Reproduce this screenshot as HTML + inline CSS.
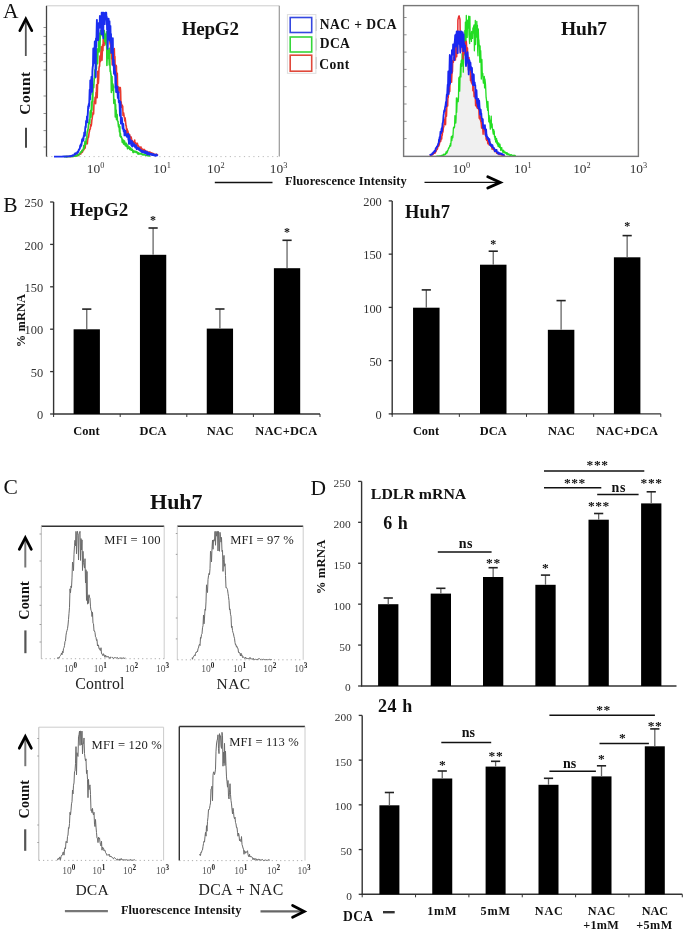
<!DOCTYPE html>
<html><head><meta charset="utf-8"><style>
html,body{margin:0;padding:0;background:#fff;}
body{width:685px;height:933px;overflow:hidden;}
svg{display:block;font-family:"Liberation Serif", serif;will-change:transform;}
</style></head><body>
<svg width="685" height="933" viewBox="0 0 685 933">
<rect width="685" height="933" fill="#fff"/>
<text x="2.99" y="17.50" font-size="21.5" fill="#111">A</text>
<line x1="25.80" y1="20.40" x2="25.80" y2="56.00" stroke="#555" stroke-width="1.8" />
<polyline points="19.8,30.7 25.8,18.9 31.8,30.7" fill="none" stroke="#000" stroke-width="2.7" stroke-linecap="round" stroke-linejoin="miter"/>
<text x="0" y="0" font-size="15.5" font-weight="bold" fill="#111" textLength="42.91" lengthAdjust="spacing" transform="translate(29.84,114.68) rotate(-90)">Count</text>
<line x1="26.00" y1="127.70" x2="26.00" y2="147.80" stroke="#333" stroke-width="1.8" />
<line x1="46.50" y1="5.80" x2="279.30" y2="5.80" stroke="#ccc" stroke-width="1" />
<line x1="279.30" y1="5.80" x2="279.30" y2="156.60" stroke="#999" stroke-width="1.2" />
<line x1="46.50" y1="156.60" x2="279.30" y2="156.60" stroke="#bbb" stroke-width="1" stroke-dasharray="1.2 3.5"/>
<line x1="43.50" y1="27.50" x2="46.50" y2="27.50" stroke="#777" stroke-width="0.8" />
<line x1="43.50" y1="36.40" x2="46.50" y2="36.40" stroke="#777" stroke-width="0.8" />
<line x1="43.50" y1="44.70" x2="46.50" y2="44.70" stroke="#777" stroke-width="0.8" />
<line x1="43.50" y1="53.40" x2="46.50" y2="53.40" stroke="#777" stroke-width="0.8" />
<line x1="43.50" y1="61.70" x2="46.50" y2="61.70" stroke="#777" stroke-width="0.8" />
<line x1="43.50" y1="70.00" x2="46.50" y2="70.00" stroke="#777" stroke-width="0.8" />
<line x1="43.50" y1="96.00" x2="46.50" y2="96.00" stroke="#777" stroke-width="0.8" />
<line x1="43.50" y1="113.50" x2="46.50" y2="113.50" stroke="#777" stroke-width="0.8" />
<line x1="43.50" y1="130.60" x2="46.50" y2="130.60" stroke="#777" stroke-width="0.8" />
<line x1="43.50" y1="147.00" x2="46.50" y2="147.00" stroke="#777" stroke-width="0.8" />
<polyline points="66.00,156.58 66.30,156.60 66.60,156.58 66.90,156.57 67.20,156.57 67.50,156.55 67.80,156.55 68.10,156.54 68.40,156.54 68.70,156.51 69.00,156.52 69.30,156.51 69.60,156.56 69.90,156.48 70.20,156.45 70.50,156.49 70.80,156.48 71.10,156.37 71.40,156.50 71.70,156.39 72.00,156.27 72.30,156.41 72.60,156.29 72.90,156.19 73.20,156.28 73.50,156.19 73.80,156.12 74.10,156.23 74.40,156.11 74.70,156.02 75.00,155.90 75.30,155.94 75.60,155.89 75.90,155.93 76.20,155.76 76.50,155.47 76.80,155.50 77.10,155.58 77.40,155.48 77.70,154.58 78.00,154.77 78.30,154.73 78.60,155.46 78.90,154.38 79.20,154.23 79.50,153.61 79.80,153.81 80.10,153.77 80.40,153.27 80.70,154.09 81.00,152.45 81.30,152.47 81.60,152.69 81.90,151.20 82.20,150.48 82.50,152.10 82.80,151.23 83.10,150.10 83.40,149.69 83.70,149.66 84.00,149.64 84.30,146.26 84.60,146.59 84.90,148.20 85.20,147.75 85.50,143.62 85.80,143.62 86.10,141.70 86.40,142.11 86.70,143.55 87.00,141.01 87.30,143.81 87.60,140.66 87.90,138.48 88.20,136.34 88.50,137.51 88.80,135.19 89.10,132.75 89.40,131.60 89.70,129.63 90.00,129.19 90.30,129.04 90.60,124.75 90.90,125.09 91.20,125.92 91.50,123.81 91.80,120.34 92.10,118.95 92.40,116.35 92.70,115.04 93.00,112.58 93.30,111.78 93.60,114.00 93.90,105.80 94.20,101.27 94.50,101.61 94.80,102.11 95.10,97.31 95.40,101.40 95.70,103.63 96.00,92.57 96.30,95.17 96.60,84.88 96.90,91.84 97.20,97.81 97.50,87.53 97.80,71.29 98.10,79.82 98.40,83.33 98.70,77.87 99.00,68.29 99.30,66.31 99.60,66.19 99.90,56.03 100.20,58.86 100.50,61.58 100.80,55.69 101.10,46.82 101.40,49.54 101.70,47.43 102.00,60.31 102.30,52.34 102.60,44.71 102.90,50.62 103.20,39.53 103.50,41.71 103.80,38.30 104.10,45.52 104.40,34.60 104.70,34.60 105.00,43.17 105.30,40.28 105.60,34.60 105.90,42.69 106.20,34.60 106.50,34.60 106.80,39.55 107.10,34.60 107.40,34.60 107.70,34.60 108.00,34.60 108.30,34.60 108.60,34.60 108.90,34.60 109.20,34.60 109.50,34.73 109.80,39.00 110.10,44.26 110.40,39.71 110.70,53.30 111.00,51.10 111.30,47.51 111.60,59.04 111.90,52.79 112.20,64.95 112.50,56.83 112.80,49.44 113.10,50.80 113.40,56.39 113.70,58.97 114.00,68.20 114.30,48.47 114.60,58.57 114.90,56.51 115.20,70.54 115.50,67.78 115.80,79.33 116.10,65.28 116.40,66.14 116.70,84.34 117.00,75.37 117.30,73.28 117.60,88.26 117.90,90.18 118.20,87.74 118.50,87.13 118.80,92.79 119.10,87.25 119.40,87.96 119.70,87.91 120.00,89.42 120.30,87.57 120.60,90.99 120.90,103.68 121.20,101.81 121.50,105.77 121.80,107.42 122.10,105.02 122.40,106.32 122.70,106.12 123.00,115.39 123.30,115.56 123.60,112.77 123.90,114.89 124.20,116.73 124.50,117.38 124.80,120.96 125.10,117.92 125.40,120.37 125.70,123.00 126.00,125.91 126.30,125.82 126.60,133.57 126.90,130.26 127.20,128.93 127.50,133.65 127.80,130.85 128.10,132.07 128.40,136.23 128.70,134.46 129.00,135.16 129.30,134.20 129.60,134.48 129.90,136.26 130.20,138.29 130.50,137.49 130.80,137.85 131.10,136.94 131.40,138.19 131.70,140.35 132.00,141.80 132.30,140.63 132.60,141.62 132.90,142.58 133.20,141.46 133.50,142.40 133.80,141.91 134.10,141.70 134.40,143.37 134.70,140.03 135.00,143.93 135.30,142.42 135.60,144.02 135.90,143.11 136.20,147.68 136.50,146.00 136.80,145.11 137.10,145.00 137.40,143.36 137.70,145.89 138.00,145.14 138.30,145.97 138.60,146.05 138.90,146.76 139.20,147.66 139.50,147.25 139.80,148.99 140.10,147.10 140.40,149.33 140.70,148.40 141.00,146.98 141.30,149.22 141.60,149.21 141.90,148.46 142.20,149.58 142.50,150.41 142.80,149.76 143.10,149.69 143.40,149.77 143.70,151.01 144.00,149.38 144.30,149.61 144.60,150.90 144.90,150.88 145.20,151.48 145.50,150.45 145.80,151.92 146.10,151.20 146.40,152.03 146.70,152.27 147.00,151.58 147.30,151.36 147.60,152.23 147.90,152.70 148.20,152.02 148.50,152.58 148.80,152.50 149.10,152.00 149.40,152.31 149.70,153.20 150.00,151.99 150.30,153.14 150.60,152.88 150.90,153.60 151.20,153.42 151.50,154.21 151.80,152.83 152.10,153.09 152.40,154.19 152.70,154.37 153.00,154.47 153.30,153.50 153.60,154.17 153.90,154.09 154.20,154.24 154.50,154.24 154.80,154.62 155.10,154.31 155.40,154.84 155.70,154.46 156.00,154.40 156.30,154.41 156.60,154.67 156.90,154.91 157.20,154.65 157.50,154.88 157.80,154.37" fill="none" stroke="#e8392e" stroke-width="1.6" stroke-linejoin="round" />
<polyline points="64.00,156.60 64.30,156.60 64.60,156.60 64.90,156.60 65.20,156.60 65.50,156.59 65.80,156.59 66.10,156.59 66.40,156.59 66.70,156.59 67.00,156.58 67.30,156.58 67.60,156.59 67.90,156.57 68.20,156.57 68.50,156.57 68.80,156.59 69.10,156.58 69.40,156.57 69.70,156.56 70.00,156.54 70.30,156.54 70.60,156.51 70.90,156.53 71.20,156.49 71.50,156.47 71.80,156.49 72.10,156.39 72.40,156.41 72.70,156.35 73.00,156.41 73.30,156.39 73.60,156.34 73.90,156.29 74.20,156.19 74.50,156.17 74.80,156.18 75.10,156.17 75.40,156.07 75.70,155.79 76.00,155.96 76.30,155.73 76.60,155.59 76.90,155.81 77.20,155.42 77.50,155.02 77.80,155.61 78.10,155.06 78.40,154.83 78.70,154.84 79.00,154.22 79.30,154.17 79.60,154.44 79.90,153.27 80.20,153.00 80.50,152.51 80.80,151.86 81.10,152.01 81.40,151.71 81.70,152.16 82.00,150.40 82.30,150.74 82.60,150.07 82.90,150.17 83.20,149.31 83.50,148.24 83.80,145.62 84.10,148.40 84.40,147.01 84.70,144.06 85.00,141.45 85.30,141.53 85.60,144.12 85.90,144.12 86.20,138.26 86.50,138.89 86.80,138.33 87.10,132.83 87.40,130.96 87.70,131.37 88.00,129.50 88.30,127.30 88.60,122.47 88.90,123.06 89.20,121.34 89.50,119.19 89.80,123.63 90.10,112.47 90.40,111.21 90.70,110.32 91.00,117.14 91.30,109.94 91.60,101.74 91.90,110.11 92.20,100.90 92.50,93.04 92.80,100.99 93.10,84.71 93.40,87.01 93.70,87.82 94.00,82.69 94.30,78.22 94.60,78.38 94.90,69.88 95.20,77.58 95.50,73.59 95.80,62.16 96.10,65.81 96.40,69.10 96.70,54.86 97.00,48.90 97.30,59.35 97.60,63.63 97.90,52.91 98.20,50.98 98.50,50.13 98.80,35.85 99.10,52.03 99.40,33.37 99.70,50.96 100.00,46.03 100.30,33.94 100.60,30.60 100.90,30.60 101.20,33.38 101.50,34.36 101.80,33.83 102.10,30.60 102.40,36.01 102.70,32.43 103.00,30.60 103.30,35.02 103.60,30.60 103.90,31.44 104.20,30.60 104.50,34.69 104.80,41.37 105.10,41.86 105.40,40.14 105.70,34.19 106.00,44.98 106.30,40.92 106.60,31.69 106.90,65.46 107.20,56.48 107.50,48.34 107.80,49.05 108.10,52.04 108.40,58.54 108.70,53.17 109.00,57.73 109.30,65.06 109.60,48.31 109.90,63.74 110.20,71.56 110.50,70.99 110.80,73.97 111.10,75.28 111.40,92.56 111.70,82.20 112.00,76.43 112.30,90.25 112.60,86.79 112.90,84.03 113.20,86.92 113.50,86.33 113.80,103.33 114.10,99.37 114.40,101.48 114.70,99.60 115.00,99.94 115.30,116.89 115.60,104.42 115.90,115.81 116.20,110.13 116.50,119.53 116.80,115.80 117.10,114.46 117.40,120.47 117.70,121.21 118.00,121.24 118.30,124.73 118.60,126.93 118.90,124.46 119.20,127.25 119.50,131.83 119.80,126.61 120.10,136.25 120.40,133.35 120.70,136.88 121.00,137.18 121.30,136.74 121.60,138.15 121.90,138.00 122.20,142.09 122.50,142.51 122.80,139.62 123.10,142.52 123.40,143.04 123.70,144.09 124.00,140.59 124.30,141.77 124.60,141.22 124.90,144.85 125.20,143.99 125.50,145.80 125.80,143.79 126.10,143.17 126.40,146.46 126.70,143.97 127.00,144.97 127.30,146.58 127.60,148.78 127.90,145.52 128.20,147.36 128.50,148.14 128.80,147.42 129.10,147.68 129.40,146.94 129.70,149.48 130.00,147.80 130.30,147.76 130.60,148.04 130.90,149.62 131.20,150.28 131.50,149.09 131.80,150.00 132.10,150.19 132.40,149.43 132.70,150.83 133.00,152.41 133.30,151.25 133.60,152.38 133.90,150.79 134.20,151.28 134.50,152.00 134.80,151.78 135.10,151.43 135.40,152.01 135.70,151.45 136.00,152.35 136.30,151.89 136.60,151.80 136.90,151.87 137.20,153.14 137.50,152.49 137.80,153.91 138.10,153.63 138.40,154.11 138.70,152.86 139.00,153.96 139.30,153.53 139.60,153.69 139.90,153.71 140.20,154.02 140.50,153.78 140.80,153.29 141.10,154.01 141.40,153.92 141.70,153.83 142.00,154.32 142.30,154.73 142.60,154.57 142.90,154.12 143.20,155.02 143.50,154.76 143.80,154.34 144.10,154.47 144.40,154.75 144.70,154.59 145.00,154.82 145.30,155.22 145.60,155.36 145.90,155.17 146.20,154.83 146.50,155.23 146.80,155.35 147.10,155.36 147.40,155.57 147.70,155.30 148.00,155.56 148.30,155.27 148.60,155.85 148.90,155.36 149.20,155.58 149.50,155.85 149.80,155.39" fill="none" stroke="#2ad42a" stroke-width="1.6" stroke-linejoin="round" />
<polyline points="54.00,156.60 54.30,156.60 54.60,156.60 54.90,156.60 55.20,156.60 55.50,156.60 55.80,156.60 56.10,156.60 56.40,156.60 56.70,156.60 57.00,156.60 57.30,156.60 57.60,156.59 57.90,156.60 58.20,156.60 58.50,156.60 58.80,156.60 59.10,156.60 59.40,156.60 59.70,156.59 60.00,156.59 60.30,156.59 60.60,156.60 60.90,156.60 61.20,156.59 61.50,156.59 61.80,156.59 62.10,156.58 62.40,156.59 62.70,156.57 63.00,156.57 63.30,156.57 63.60,156.56 63.90,156.57 64.20,156.58 64.50,156.56 64.80,156.54 65.10,156.55 65.40,156.54 65.70,156.51 66.00,156.54 66.30,156.48 66.60,156.43 66.90,156.50 67.20,156.46 67.50,156.45 67.80,156.35 68.10,156.39 68.40,156.33 68.70,156.40 69.00,156.32 69.30,156.29 69.60,156.41 69.90,156.08 70.20,156.08 70.50,156.31 70.80,155.97 71.10,156.02 71.40,155.87 71.70,155.81 72.00,156.04 72.30,155.73 72.60,155.30 72.90,155.62 73.20,155.62 73.50,155.59 73.80,155.45 74.10,154.86 74.40,154.26 74.70,154.47 75.00,154.33 75.30,153.32 75.60,154.21 75.90,154.05 76.20,153.21 76.50,152.90 76.80,153.46 77.10,153.26 77.40,152.00 77.70,151.63 78.00,152.37 78.30,151.11 78.60,150.93 78.90,149.55 79.20,149.53 79.50,148.93 79.80,148.61 80.10,146.35 80.40,145.16 80.70,146.61 81.00,144.17 81.30,145.63 81.60,143.52 81.90,141.48 82.20,139.10 82.50,141.39 82.80,139.75 83.10,138.07 83.40,140.47 83.70,135.97 84.00,136.29 84.30,132.40 84.60,134.82 84.90,135.77 85.20,128.72 85.50,126.43 85.80,127.24 86.10,120.88 86.40,122.91 86.70,122.26 87.00,116.41 87.30,122.23 87.60,116.86 87.90,112.12 88.20,106.20 88.50,108.39 88.80,103.96 89.10,106.24 89.40,99.21 89.70,89.72 90.00,99.53 90.30,80.35 90.60,94.53 90.90,88.22 91.20,84.71 91.50,76.80 91.80,88.46 92.10,91.73 92.40,71.24 92.70,67.21 93.00,65.67 93.30,48.41 93.60,63.38 93.90,60.41 94.20,52.60 94.50,54.38 94.80,41.43 95.10,62.60 95.40,53.21 95.70,77.09 96.00,38.52 96.30,46.66 96.60,33.07 96.90,19.85 97.20,37.46 97.50,37.95 97.80,38.56 98.10,40.20 98.40,36.80 98.70,23.23 99.00,27.77 99.30,26.34 99.60,27.68 99.90,16.03 100.20,19.42 100.50,25.13 100.80,16.57 101.10,24.40 101.40,34.25 101.70,12.60 102.00,17.92 102.30,32.22 102.60,12.60 102.90,19.13 103.20,38.32 103.50,12.60 103.80,19.25 104.10,13.64 104.40,20.61 104.70,24.10 105.00,17.74 105.30,12.60 105.60,12.60 105.90,15.47 106.20,12.64 106.50,19.28 106.80,17.00 107.10,29.71 107.40,27.31 107.70,48.77 108.00,33.15 108.30,23.77 108.60,18.82 108.90,36.33 109.20,35.49 109.50,21.26 109.80,40.49 110.10,32.56 110.40,25.97 110.70,42.43 111.00,34.00 111.30,52.72 111.60,46.87 111.90,51.32 112.20,51.83 112.50,45.81 112.80,38.16 113.10,64.47 113.40,65.93 113.70,60.07 114.00,73.83 114.30,64.80 114.60,66.66 114.90,74.92 115.20,71.75 115.50,87.84 115.80,75.08 116.10,91.96 116.40,88.83 116.70,90.17 117.00,91.46 117.30,86.52 117.60,93.15 117.90,97.92 118.20,95.15 118.50,92.14 118.80,102.18 119.10,102.54 119.40,100.62 119.70,107.11 120.00,115.77 120.30,101.81 120.60,105.15 120.90,123.54 121.20,117.76 121.50,117.84 121.80,117.66 122.10,120.41 122.40,125.11 122.70,128.60 123.00,125.82 123.30,123.85 123.60,130.96 123.90,131.49 124.20,129.35 124.50,135.36 124.80,131.44 125.10,132.58 125.40,130.94 125.70,134.54 126.00,135.59 126.30,134.98 126.60,134.76 126.90,136.77 127.20,135.78 127.50,134.70 127.80,134.34 128.10,133.82 128.40,139.58 128.70,139.31 129.00,143.88 129.30,135.73 129.60,141.26 129.90,140.39 130.20,139.82 130.50,143.61 130.80,140.80 131.10,142.06 131.40,145.45 131.70,142.31 132.00,141.25 132.30,146.44 132.60,142.64 132.90,143.90 133.20,143.85 133.50,144.24 133.80,143.36 134.10,145.80 134.40,144.62 134.70,146.62 135.00,145.43 135.30,147.66 135.60,147.04 135.90,145.09 136.20,146.90 136.50,147.85 136.80,149.20 137.10,149.02 137.40,148.16 137.70,147.60 138.00,148.37 138.30,148.49 138.60,149.26 138.90,148.11 139.20,149.98 139.50,150.31 139.80,149.18 140.10,150.11 140.40,150.58 140.70,150.99 141.00,150.88 141.30,150.32 141.60,150.70 141.90,152.08 142.20,150.96 142.50,151.29 142.80,152.29 143.10,151.15 143.40,152.03 143.70,152.19 144.00,151.55 144.30,151.34 144.60,152.76 144.90,152.17 145.20,153.09 145.50,151.28 145.80,153.06 146.10,152.19 146.40,153.33 146.70,152.62 147.00,151.97 147.30,154.59 147.60,153.57 147.90,153.18 148.20,153.56 148.50,153.92 148.80,152.67 149.10,153.72 149.40,154.58 149.70,153.53 150.00,154.73 150.30,153.57 150.60,154.36 150.90,154.13 151.20,153.76 151.50,154.27 151.80,154.90 152.10,155.07 152.40,154.07 152.70,154.29 153.00,154.89 153.30,154.37 153.60,154.55 153.90,154.55 154.20,155.53 154.50,154.96 154.80,154.63 155.10,154.74 155.40,154.74 155.70,155.74 156.00,155.04 156.30,154.99 156.60,154.48 156.90,155.45 157.20,155.32 157.50,155.27 157.80,155.10" fill="none" stroke="#1a2ef0" stroke-width="1.9" stroke-linejoin="round" />
<line x1="46.50" y1="5.80" x2="46.50" y2="156.60" stroke="#444" stroke-width="1.3" />
<text x="181.72" y="34.80" font-size="19" font-weight="bold" fill="#111" textLength="57.16" lengthAdjust="spacing">HepG2</text>
<rect x="287.40" y="14.60" width="28.50" height="58.70" fill="none" stroke="#ddd" stroke-width="1"/>
<rect x="290.20" y="17.50" width="21.50" height="15.00" fill="none" stroke="#3447e0" stroke-width="1.6"/>
<rect x="290.20" y="37.00" width="21.50" height="15.00" fill="none" stroke="#36d63a" stroke-width="1.6"/>
<rect x="290.20" y="55.20" width="21.50" height="16.00" fill="none" stroke="#e0483a" stroke-width="1.6"/>
<line x1="316.20" y1="19.00" x2="316.20" y2="31.00" stroke="#bbb" stroke-width="0.8" />
<line x1="316.20" y1="38.50" x2="316.20" y2="50.50" stroke="#bbb" stroke-width="0.8" />
<line x1="316.20" y1="57.00" x2="316.20" y2="69.00" stroke="#bbb" stroke-width="0.8" />
<text x="319.73" y="28.60" font-size="13.6" font-weight="bold" fill="#111" textLength="76.88" lengthAdjust="spacing">NAC + DCA</text>
<text x="319.80" y="47.90" font-size="13.6" font-weight="bold" fill="#111" textLength="29.99" lengthAdjust="spacing">DCA</text>
<text x="319.32" y="69.00" font-size="13.6" font-weight="bold" fill="#111" textLength="29.90" lengthAdjust="spacing">Cont</text>
<text x="86.86" y="173.20" font-size="13.4" fill="#333">10<tspan dy="-5.6" font-size="8.3">0</tspan></text>
<text x="153.36" y="173.20" font-size="13.4" fill="#333">10<tspan dy="-5.6" font-size="8.3">1</tspan></text>
<text x="207.06" y="173.20" font-size="13.4" fill="#333">10<tspan dy="-5.6" font-size="8.3">2</tspan></text>
<text x="269.86" y="173.20" font-size="13.4" fill="#333">10<tspan dy="-5.6" font-size="8.3">3</tspan></text>
<line x1="214.80" y1="182.50" x2="272.50" y2="182.50" stroke="#111" stroke-width="1.6" />
<text x="284.91" y="185.30" font-size="12.4" font-weight="bold" fill="#111" textLength="121.89" lengthAdjust="spacing">Fluorescence Intensity</text>
<line x1="424.50" y1="182.40" x2="498.70" y2="182.40" stroke="#111" stroke-width="1.4" />
<polyline points="487.8,176.8 500.2,182.4 487.8,188.0" fill="none" stroke="#000" stroke-width="2.9" stroke-linecap="round" stroke-linejoin="miter"/>
<line x1="403.60" y1="17.50" x2="406.60" y2="17.50" stroke="#777" stroke-width="0.8" />
<line x1="403.60" y1="34.80" x2="406.60" y2="34.80" stroke="#777" stroke-width="0.8" />
<line x1="403.60" y1="52.10" x2="406.60" y2="52.10" stroke="#777" stroke-width="0.8" />
<line x1="403.60" y1="69.40" x2="406.60" y2="69.40" stroke="#777" stroke-width="0.8" />
<line x1="403.60" y1="86.70" x2="406.60" y2="86.70" stroke="#777" stroke-width="0.8" />
<line x1="403.60" y1="104.00" x2="406.60" y2="104.00" stroke="#777" stroke-width="0.8" />
<line x1="403.60" y1="121.30" x2="406.60" y2="121.30" stroke="#777" stroke-width="0.8" />
<line x1="403.60" y1="138.60" x2="406.60" y2="138.60" stroke="#777" stroke-width="0.8" />
<polygon points="440.0,156.4 440.0,155.9 441.0,155.8 442.0,155.2 443.0,155.0 444.0,154.7 445.0,154.7 446.0,152.4 447.0,152.6 448.0,150.1 449.0,147.9 450.0,146.0 451.0,142.4 452.0,139.0 453.0,135.1 454.0,126.9 455.0,116.3 456.0,119.5 457.0,104.7 458.0,99.2 459.0,86.1 460.0,78.8 461.0,71.6 462.0,57.8 463.0,50.3 464.0,53.5 465.0,46.7 466.0,66.1 467.0,54.0 468.0,61.1 469.0,63.0 470.0,67.1 471.0,67.8 472.0,67.9 473.0,84.4 474.0,81.7 475.0,85.7 476.0,95.6 477.0,101.3 478.0,107.0 479.0,105.2 480.0,113.1 481.0,114.1 482.0,119.1 483.0,125.0 484.0,128.4 485.0,126.5 486.0,131.5 487.0,137.9 488.0,137.8 489.0,141.2 490.0,145.0 491.0,145.3 492.0,146.5 493.0,147.5 494.0,148.5 495.0,150.4 496.0,151.2 497.0,152.3 498.0,153.4 499.0,153.9 500.0,153.8 501.0,153.5 502.0,154.4 503.0,154.8 504.0,155.2 505.0,156.4 505.0,156.4" fill="#f0f0f0"/>
<line x1="403.60" y1="156.40" x2="638.40" y2="156.40" stroke="#9a9ad0" stroke-width="1.0" />
<polyline points="436.00,156.32 436.30,156.34 436.60,156.34 436.90,156.25 437.20,156.32 437.50,156.20 437.80,156.23 438.10,156.16 438.40,156.26 438.70,156.11 439.00,156.05 439.30,156.13 439.60,156.09 439.90,155.81 440.20,155.97 440.50,155.99 440.80,155.96 441.10,155.75 441.40,155.69 441.70,155.62 442.00,155.24 442.30,155.52 442.60,155.24 442.90,154.87 443.20,155.34 443.50,154.63 443.80,154.18 444.10,155.03 444.40,154.77 444.70,154.56 445.00,154.71 445.30,153.41 445.60,154.29 445.90,152.73 446.20,151.78 446.50,153.34 446.80,152.10 447.10,152.89 447.40,150.31 447.70,151.07 448.00,150.11 448.30,149.20 448.60,148.01 448.90,148.31 449.20,147.14 449.50,147.09 449.80,145.33 450.10,146.37 450.40,143.51 450.70,145.91 451.00,142.37 451.30,136.58 451.60,138.91 451.90,140.53 452.20,135.80 452.50,137.34 452.80,137.71 453.10,133.85 453.40,128.05 453.70,127.26 454.00,126.91 454.30,127.81 454.60,126.52 454.90,115.69 455.20,117.60 455.50,120.20 455.80,123.00 456.10,117.78 456.40,97.96 456.70,112.38 457.00,104.73 457.30,100.68 457.60,99.98 457.90,98.00 458.20,101.67 458.50,97.27 458.80,77.73 459.10,90.21 459.40,76.97 459.70,91.22 460.00,78.79 460.30,72.16 460.60,63.55 460.90,76.93 461.20,61.01 461.50,59.84 461.80,66.23 462.10,53.62 462.40,62.65 462.70,59.43 463.00,50.28 463.30,72.16 463.60,46.56 463.90,52.71 464.20,55.18 464.50,43.59 464.80,30.43 465.10,40.10 465.40,22.22 465.70,44.84 466.00,45.27 466.30,15.51 466.60,26.22 466.90,19.94 467.20,37.44 467.50,20.41 467.80,25.78 468.10,21.76 468.40,28.14 468.70,16.05 469.00,35.05 469.30,38.27 469.60,43.53 469.90,16.52 470.20,35.96 470.50,39.08 470.80,38.02 471.10,32.96 471.40,41.42 471.70,31.37 472.00,34.82 472.30,34.05 472.60,38.23 472.90,28.02 473.20,33.12 473.50,27.22 473.80,25.85 474.10,24.92 474.40,50.82 474.70,33.89 475.00,36.55 475.30,20.47 475.60,44.56 475.90,35.72 476.20,31.82 476.50,33.30 476.80,21.30 477.10,37.25 477.40,25.09 477.70,50.70 478.00,55.82 478.30,28.96 478.60,38.57 478.90,40.35 479.20,45.95 479.50,45.04 479.80,62.26 480.10,45.85 480.40,60.80 480.70,50.55 481.00,60.33 481.30,79.05 481.60,75.75 481.90,59.50 482.20,71.43 482.50,75.60 482.80,73.28 483.10,80.23 483.40,83.22 483.70,81.04 484.00,82.96 484.30,76.42 484.60,87.87 484.90,78.88 485.20,81.66 485.50,84.42 485.80,90.31 486.10,97.46 486.40,99.33 486.70,102.65 487.00,107.40 487.30,105.81 487.60,110.26 487.90,101.29 488.20,108.12 488.50,114.08 488.80,121.84 489.10,115.42 489.40,118.35 489.70,122.35 490.00,123.82 490.30,129.14 490.60,120.16 490.90,123.70 491.20,116.06 491.50,126.01 491.80,127.55 492.10,123.80 492.40,128.91 492.70,129.89 493.00,132.42 493.30,134.01 493.60,129.45 493.90,131.76 494.20,130.99 494.50,136.86 494.80,136.80 495.10,139.61 495.40,136.39 495.70,142.06 496.00,138.80 496.30,138.52 496.60,138.67 496.90,143.62 497.20,140.67 497.50,144.35 497.80,144.95 498.10,146.34 498.40,143.09 498.70,142.95 499.00,146.65 499.30,147.31 499.60,147.18 499.90,144.05 500.20,146.39 500.50,148.63 500.80,150.39 501.10,149.47 501.40,147.88 501.70,147.58 502.00,150.02 502.30,150.72 502.60,150.83 502.90,152.27 503.20,150.18 503.50,152.05 503.80,150.63 504.10,152.93 504.40,152.80 504.70,151.93 505.00,152.83 505.30,152.04 505.60,152.72 505.90,153.58 506.20,152.73 506.50,152.79 506.80,154.37 507.10,152.65 507.40,153.46 507.70,153.48 508.00,154.76 508.30,154.38 508.60,154.34 508.90,153.90 509.20,154.95 509.50,154.83 509.80,155.30 510.10,154.79 510.40,154.69 510.70,155.38 511.00,155.13 511.30,154.90 511.60,154.70 511.90,155.01 512.20,155.31 512.50,155.57 512.80,155.57 513.10,155.56 513.40,155.44 513.70,155.53 514.00,155.26 514.30,155.56 514.60,155.83 514.90,155.45 515.20,155.59 515.50,155.76 515.80,155.91" fill="none" stroke="#22dd22" stroke-width="1.3" stroke-linejoin="round" />
<polyline points="430.00,155.75 430.30,155.21 430.60,155.22 430.90,155.44 431.20,154.79 431.50,154.75 431.80,155.27 432.10,154.16 432.40,154.25 432.70,153.66 433.00,154.49 433.30,153.69 433.60,153.48 433.90,153.31 434.20,153.04 434.50,152.33 434.80,153.25 435.10,152.83 435.40,152.60 435.70,151.75 436.00,151.39 436.30,150.30 436.60,149.88 436.90,149.54 437.20,149.59 437.50,148.84 437.80,146.95 438.10,146.44 438.40,146.40 438.70,146.14 439.00,143.19 439.30,144.94 439.60,142.49 439.90,140.85 440.20,141.88 440.50,139.23 440.80,141.26 441.10,136.64 441.40,136.86 441.70,138.99 442.00,133.45 442.30,135.30 442.60,129.35 442.90,132.23 443.20,129.63 443.50,127.03 443.80,127.01 444.10,123.84 444.40,124.41 444.70,119.19 445.00,119.35 445.30,116.88 445.60,124.64 445.90,109.83 446.20,111.69 446.50,116.27 446.80,107.40 447.10,103.87 447.40,99.28 447.70,105.92 448.00,92.66 448.30,97.77 448.60,84.01 448.90,93.32 449.20,87.14 449.50,89.95 449.80,91.54 450.10,77.97 450.40,76.60 450.70,70.82 451.00,72.20 451.30,78.03 451.60,82.25 451.90,74.32 452.20,72.45 452.50,71.33 452.80,60.67 453.10,60.28 453.40,62.21 453.70,57.50 454.00,57.84 454.30,53.75 454.60,48.44 454.90,45.41 455.20,55.41 455.50,59.91 455.80,37.83 456.10,46.03 456.40,37.80 456.70,56.85 457.00,46.45 457.30,43.11 457.60,53.37 457.90,19.90 458.20,18.70 458.50,17.50 458.80,16.30 459.10,15.90 459.40,17.10 459.70,18.30 460.00,19.50 460.30,40.42 460.60,51.78 460.90,36.58 461.20,36.85 461.50,39.01 461.80,47.11 462.10,41.77 462.40,38.74 462.70,49.15 463.00,59.06 463.30,43.98 463.60,43.59 463.90,47.69 464.20,42.25 464.50,53.52 464.80,50.82 465.10,53.26 465.40,48.12 465.70,42.09 466.00,55.76 466.30,41.21 466.60,45.92 466.90,52.01 467.20,54.53 467.50,48.02 467.80,61.91 468.10,62.67 468.40,69.91 468.70,61.50 469.00,57.43 469.30,63.79 469.60,65.81 469.90,70.90 470.20,70.06 470.50,80.72 470.80,67.80 471.10,77.53 471.40,82.78 471.70,82.17 472.00,83.93 472.30,76.32 472.60,76.76 472.90,90.79 473.20,80.49 473.50,82.20 473.80,90.95 474.10,96.73 474.40,94.52 474.70,95.37 475.00,92.27 475.30,96.88 475.60,105.66 475.90,97.08 476.20,106.03 476.50,97.11 476.80,107.20 477.10,106.41 477.40,108.35 477.70,108.42 478.00,102.78 478.30,105.84 478.60,108.11 478.90,110.43 479.20,118.14 479.50,115.82 479.80,117.11 480.10,119.64 480.40,116.11 480.70,121.13 481.00,122.14 481.30,124.19 481.60,128.09 481.90,121.72 482.20,120.85 482.50,125.02 482.80,128.98 483.10,134.20 483.40,128.07 483.70,126.60 484.00,129.71 484.30,129.25 484.60,129.02 484.90,130.72 485.20,134.82 485.50,132.68 485.80,134.08 486.10,139.19 486.40,137.84 486.70,140.33 487.00,138.76 487.30,138.34 487.60,141.64 487.90,143.76 488.20,139.34 488.50,141.34 488.80,140.45 489.10,144.83 489.40,142.26 489.70,141.59 490.00,142.29 490.30,145.45 490.60,145.40 490.90,146.34 491.20,145.59 491.50,146.03 491.80,147.41 492.10,149.17 492.40,147.64 492.70,149.08 493.00,148.52 493.30,149.18 493.60,148.48 493.90,149.21 494.20,150.68 494.50,150.42 494.80,149.79 495.10,151.55 495.40,151.22 495.70,151.04 496.00,151.27 496.30,151.92 496.60,153.08 496.90,153.24 497.20,152.71 497.50,152.84 497.80,152.11 498.10,153.72 498.40,153.09 498.70,153.40 499.00,154.44 499.30,154.26 499.60,154.06 499.90,154.40 500.20,154.42 500.50,154.35 500.80,154.81 501.10,154.58 501.40,154.96 501.70,155.02 502.00,154.87 502.30,155.19 502.60,155.09 502.90,154.92 503.20,155.29 503.50,155.39 503.80,155.31 504.10,155.55 504.40,155.38 504.70,155.78" fill="none" stroke="#e83030" stroke-width="1.5" stroke-linejoin="round" />
<polyline points="430.00,155.18 430.30,154.69 430.60,155.00 430.90,154.57 431.20,154.61 431.50,154.22 431.80,154.29 432.10,154.40 432.40,153.16 432.70,153.19 433.00,153.28 433.30,152.62 433.60,151.87 433.90,152.56 434.20,151.70 434.50,150.88 434.80,150.41 435.10,150.53 435.40,151.39 435.70,148.21 436.00,148.36 436.30,148.01 436.60,147.63 436.90,146.38 437.20,146.38 437.50,146.32 437.80,145.20 438.10,144.17 438.40,143.31 438.70,143.17 439.00,139.45 439.30,141.48 439.60,137.06 439.90,138.83 440.20,135.06 440.50,131.67 440.80,132.62 441.10,133.23 441.40,130.02 441.70,128.22 442.00,131.35 442.30,126.92 442.60,123.14 442.90,123.16 443.20,119.74 443.50,115.80 443.80,113.66 444.10,111.10 444.40,110.05 444.70,111.07 445.00,107.96 445.30,106.77 445.60,104.76 445.90,102.00 446.20,106.40 446.50,98.13 446.80,94.43 447.10,96.57 447.40,89.71 447.70,84.63 448.00,85.67 448.30,71.48 448.60,94.17 448.90,78.84 449.20,85.71 449.50,67.32 449.80,54.96 450.10,83.62 450.40,65.43 450.70,60.77 451.00,63.85 451.30,56.24 451.60,72.73 451.90,50.16 452.20,51.50 452.50,52.11 452.80,54.70 453.10,44.43 453.40,50.96 453.70,44.45 454.00,48.52 454.30,60.22 454.60,42.76 454.90,40.05 455.20,35.04 455.50,46.67 455.80,39.70 456.10,34.27 456.40,37.55 456.70,31.40 457.00,31.40 457.30,45.37 457.60,53.13 457.90,31.83 458.20,31.40 458.50,31.40 458.80,32.16 459.10,43.15 459.40,43.91 459.70,31.72 460.00,45.64 460.30,52.71 460.60,46.69 460.90,31.40 461.20,31.40 461.50,45.23 461.80,45.95 462.10,39.15 462.40,47.02 462.70,32.13 463.00,43.11 463.30,51.21 463.60,34.15 463.90,48.82 464.20,43.66 464.50,46.16 464.80,49.17 465.10,45.43 465.40,53.60 465.70,62.67 466.00,66.10 466.30,60.41 466.60,57.86 466.90,53.84 467.20,54.40 467.50,52.15 467.80,56.25 468.10,63.49 468.40,64.08 468.70,74.41 469.00,63.00 469.30,60.10 469.60,61.15 469.90,66.54 470.20,68.18 470.50,62.77 470.80,69.71 471.10,66.81 471.40,69.15 471.70,72.72 472.00,67.93 472.30,79.96 472.60,80.15 472.90,83.99 473.20,85.29 473.50,74.23 473.80,74.73 474.10,85.19 474.40,83.88 474.70,82.35 475.00,85.66 475.30,85.25 475.60,98.37 475.90,96.80 476.20,93.20 476.50,90.27 476.80,97.59 477.10,103.10 477.40,102.28 477.70,104.87 478.00,106.96 478.30,98.89 478.60,108.57 478.90,107.38 479.20,100.72 479.50,105.72 479.80,110.09 480.10,114.65 480.40,112.36 480.70,109.57 481.00,114.13 481.30,113.32 481.60,118.17 481.90,118.05 482.20,121.31 482.50,120.59 482.80,119.24 483.10,127.85 483.40,125.14 483.70,125.36 484.00,128.42 484.30,128.70 484.60,127.01 484.90,125.17 485.20,129.31 485.50,130.90 485.80,135.80 486.10,129.32 486.40,133.99 486.70,135.02 487.00,137.86 487.30,136.60 487.60,139.20 487.90,137.83 488.20,137.87 488.50,139.29 488.80,139.56 489.10,141.95 489.40,139.14 489.70,142.81 490.00,144.98 490.30,143.27 490.60,144.56 490.90,145.37 491.20,145.05 491.50,144.77 491.80,146.93 492.10,146.21 492.40,145.00 492.70,146.25 493.00,147.51 493.30,147.64 493.60,148.26 493.90,148.56 494.20,148.26 494.50,149.30 494.80,151.45 495.10,149.90 495.40,150.84 495.70,150.03 496.00,151.18 496.30,150.94 496.60,149.95 496.90,152.18 497.20,152.44 497.50,152.80 497.80,153.51 498.10,153.40 498.40,152.48 498.70,153.14 499.00,153.86 499.30,153.84 499.60,153.12 499.90,153.84 500.20,153.82 500.50,153.71 500.80,153.50 501.10,153.46 501.40,153.90 501.70,154.30 502.00,154.41 502.30,154.08 502.60,154.30 502.90,154.85 503.20,154.75 503.50,154.89 503.80,155.02 504.10,155.22 504.40,155.45 504.70,155.36" fill="none" stroke="#1a26f0" stroke-width="1.8" stroke-linejoin="round" />
<rect x="403.6" y="5.6" width="234.8" height="150.8" fill="none" stroke="#777" stroke-width="1.4"/>
<text x="561.11" y="34.90" font-size="19.5" font-weight="bold" fill="#111" textLength="45.98" lengthAdjust="spacing">Huh7</text>
<text x="452.56" y="173.10" font-size="13.4" fill="#333">10<tspan dy="-5.6" font-size="8.3">0</tspan></text>
<text x="514.06" y="173.10" font-size="13.4" fill="#333">10<tspan dy="-5.6" font-size="8.3">1</tspan></text>
<text x="573.16" y="173.10" font-size="13.4" fill="#333">10<tspan dy="-5.6" font-size="8.3">2</tspan></text>
<text x="629.66" y="173.10" font-size="13.4" fill="#333">10<tspan dy="-5.6" font-size="8.3">3</tspan></text>
<text x="3.15" y="211.90" font-size="21.5" fill="#111">B</text>
<line x1="53.60" y1="202.00" x2="53.60" y2="414.50" stroke="#333" stroke-width="1.4" />
<line x1="53.10" y1="414.00" x2="320.00" y2="414.00" stroke="#333" stroke-width="1.4" />
<line x1="50.10" y1="414.00" x2="53.60" y2="414.00" stroke="#333" stroke-width="1.3" />
<text x="36.90" y="419.29" font-size="12.4" fill="#333">0</text>
<line x1="50.10" y1="371.60" x2="53.60" y2="371.60" stroke="#333" stroke-width="1.3" />
<text x="30.70" y="376.89" font-size="12.4" fill="#333">50</text>
<line x1="50.10" y1="329.20" x2="53.60" y2="329.20" stroke="#333" stroke-width="1.3" />
<text x="24.50" y="334.49" font-size="12.4" fill="#333">100</text>
<line x1="50.10" y1="286.80" x2="53.60" y2="286.80" stroke="#333" stroke-width="1.3" />
<text x="24.50" y="292.09" font-size="12.4" fill="#333">150</text>
<line x1="50.10" y1="244.40" x2="53.60" y2="244.40" stroke="#333" stroke-width="1.3" />
<text x="24.50" y="249.69" font-size="12.4" fill="#333">200</text>
<line x1="50.10" y1="202.00" x2="53.60" y2="202.00" stroke="#333" stroke-width="1.3" />
<text x="24.50" y="207.29" font-size="12.4" fill="#333">250</text>
<line x1="53.60" y1="414.00" x2="53.60" y2="417.00" stroke="#333" stroke-width="1.0" />
<line x1="120.20" y1="414.00" x2="120.20" y2="417.00" stroke="#333" stroke-width="1.0" />
<line x1="186.80" y1="414.00" x2="186.80" y2="417.00" stroke="#333" stroke-width="1.0" />
<line x1="253.40" y1="414.00" x2="253.40" y2="417.00" stroke="#333" stroke-width="1.0" />
<line x1="320.00" y1="414.00" x2="320.00" y2="417.00" stroke="#333" stroke-width="1.0" />
<rect x="73.60" y="329.30" width="26.30" height="84.70" fill="#000" />
<line x1="86.75" y1="309.10" x2="86.75" y2="329.30" stroke="#666" stroke-width="1.3" />
<line x1="82.15" y1="309.10" x2="91.35" y2="309.10" stroke="#222" stroke-width="1.6" />
<rect x="139.95" y="254.80" width="26.30" height="159.20" fill="#000" />
<line x1="153.10" y1="228.00" x2="153.10" y2="254.80" stroke="#666" stroke-width="1.3" />
<line x1="148.50" y1="228.00" x2="157.70" y2="228.00" stroke="#222" stroke-width="1.6" />
<text x="150.10" y="223.58" font-size="12" font-weight="bold" fill="#111">*</text>
<rect x="206.75" y="328.60" width="26.30" height="85.40" fill="#000" />
<line x1="219.90" y1="309.00" x2="219.90" y2="328.60" stroke="#666" stroke-width="1.3" />
<line x1="215.30" y1="309.00" x2="224.50" y2="309.00" stroke="#222" stroke-width="1.6" />
<rect x="273.90" y="268.20" width="26.30" height="145.80" fill="#000" />
<line x1="287.05" y1="240.30" x2="287.05" y2="268.20" stroke="#666" stroke-width="1.3" />
<line x1="282.45" y1="240.30" x2="291.65" y2="240.30" stroke="#222" stroke-width="1.6" />
<text x="284.05" y="235.58" font-size="12" font-weight="bold" fill="#111">*</text>
<text x="70.02" y="215.80" font-size="19" font-weight="bold" fill="#111" textLength="58.26" lengthAdjust="spacing">HepG2</text>
<text x="73.36" y="434.80" font-size="12.4" font-weight="bold" fill="#111">Cont</text>
<text x="139.61" y="434.80" font-size="12.4" font-weight="bold" fill="#111">DCA</text>
<text x="206.82" y="434.80" font-size="12.4" font-weight="bold" fill="#111">NAC</text>
<text x="255.25" y="434.80" font-size="12.4" font-weight="bold" fill="#111" textLength="61.85" lengthAdjust="spacing">NAC+DCA</text>
<text x="0" y="0" font-size="12.5" font-weight="bold" fill="#111" textLength="53.47" lengthAdjust="spacing" transform="translate(24.81,347.35) rotate(-90)">% mRNA</text>
<line x1="392.20" y1="200.90" x2="392.20" y2="414.40" stroke="#333" stroke-width="1.4" />
<line x1="391.70" y1="413.90" x2="660.80" y2="413.90" stroke="#333" stroke-width="1.4" />
<line x1="388.70" y1="413.90" x2="392.20" y2="413.90" stroke="#333" stroke-width="1.3" />
<text x="375.60" y="419.19" font-size="12.4" fill="#333">0</text>
<line x1="388.70" y1="360.65" x2="392.20" y2="360.65" stroke="#333" stroke-width="1.3" />
<text x="369.40" y="365.94" font-size="12.4" fill="#333">50</text>
<line x1="388.70" y1="307.40" x2="392.20" y2="307.40" stroke="#333" stroke-width="1.3" />
<text x="363.20" y="312.69" font-size="12.4" fill="#333">100</text>
<line x1="388.70" y1="254.15" x2="392.20" y2="254.15" stroke="#333" stroke-width="1.3" />
<text x="363.20" y="259.44" font-size="12.4" fill="#333">150</text>
<line x1="388.70" y1="200.90" x2="392.20" y2="200.90" stroke="#333" stroke-width="1.3" />
<text x="363.20" y="206.19" font-size="12.4" fill="#333">200</text>
<line x1="392.20" y1="413.90" x2="392.20" y2="416.90" stroke="#333" stroke-width="1.0" />
<line x1="459.35" y1="413.90" x2="459.35" y2="416.90" stroke="#333" stroke-width="1.0" />
<line x1="526.50" y1="413.90" x2="526.50" y2="416.90" stroke="#333" stroke-width="1.0" />
<line x1="593.65" y1="413.90" x2="593.65" y2="416.90" stroke="#333" stroke-width="1.0" />
<line x1="660.80" y1="413.90" x2="660.80" y2="416.90" stroke="#333" stroke-width="1.0" />
<rect x="413.05" y="307.70" width="26.50" height="106.20" fill="#000" />
<line x1="426.30" y1="289.90" x2="426.30" y2="307.70" stroke="#666" stroke-width="1.3" />
<line x1="421.70" y1="289.90" x2="430.90" y2="289.90" stroke="#222" stroke-width="1.6" />
<rect x="480.00" y="264.70" width="26.50" height="149.20" fill="#000" />
<line x1="493.25" y1="251.20" x2="493.25" y2="264.70" stroke="#666" stroke-width="1.3" />
<line x1="488.65" y1="251.20" x2="497.85" y2="251.20" stroke="#222" stroke-width="1.6" />
<text x="490.25" y="247.78" font-size="12" font-weight="bold" fill="#111">*</text>
<rect x="547.85" y="329.80" width="26.50" height="84.10" fill="#000" />
<line x1="561.10" y1="300.60" x2="561.10" y2="329.80" stroke="#666" stroke-width="1.3" />
<line x1="556.50" y1="300.60" x2="565.70" y2="300.60" stroke="#222" stroke-width="1.6" />
<rect x="613.90" y="257.30" width="26.50" height="156.60" fill="#000" />
<line x1="627.15" y1="235.60" x2="627.15" y2="257.30" stroke="#666" stroke-width="1.3" />
<line x1="622.55" y1="235.60" x2="631.75" y2="235.60" stroke="#222" stroke-width="1.6" />
<text x="624.15" y="229.78" font-size="12" font-weight="bold" fill="#111">*</text>
<text x="404.92" y="218.00" font-size="18.5" font-weight="bold" fill="#111" textLength="45.04" lengthAdjust="spacing">Huh7</text>
<text x="412.91" y="434.80" font-size="12.4" font-weight="bold" fill="#111">Cont</text>
<text x="479.76" y="434.80" font-size="12.4" font-weight="bold" fill="#111">DCA</text>
<text x="548.02" y="434.80" font-size="12.4" font-weight="bold" fill="#111">NAC</text>
<text x="596.25" y="434.80" font-size="12.4" font-weight="bold" fill="#111" textLength="61.75" lengthAdjust="spacing">NAC+DCA</text>
<text x="3.54" y="494.30" font-size="21.5" fill="#111">C</text>
<text x="150.07" y="508.50" font-size="22" font-weight="bold" fill="#111" textLength="52.48" lengthAdjust="spacing">Huh7</text>
<line x1="41.30" y1="526.20" x2="164.20" y2="526.20" stroke="#333" stroke-width="1.6" />
<line x1="41.30" y1="526.20" x2="41.30" y2="658.70" stroke="#bbb" stroke-width="1" />
<line x1="164.20" y1="526.20" x2="164.20" y2="658.70" stroke="#ccc" stroke-width="1" />
<line x1="41.30" y1="658.70" x2="164.20" y2="658.70" stroke="#999" stroke-width="0.8" stroke-dasharray="1.2 3"/>
<polyline points="57.00,658.60 57.50,658.45 58.00,657.38 58.50,658.06 59.00,658.16 59.50,656.84 60.00,656.36 60.50,655.49 61.00,654.73 61.50,653.05 62.00,654.74 62.50,651.26 63.00,652.80 63.50,648.63 64.00,647.69 64.50,645.49 65.00,641.54 65.50,641.03 66.00,635.17 66.50,632.26 67.00,630.56 67.50,628.69 68.00,625.01 68.50,619.59 69.00,613.35 69.50,607.27 70.00,588.85 70.50,592.76 71.00,585.96 71.50,587.60 72.00,577.89 72.50,562.07 73.00,564.14 73.50,570.66 74.00,554.24 74.50,545.71 75.00,540.26 75.50,545.87 76.00,531.34 76.50,553.79 77.00,534.01 77.50,531.34 78.00,535.64 78.50,560.02 79.00,533.98 79.50,533.21 80.00,531.34 80.50,560.43 81.00,538.56 81.50,550.03 82.00,539.87 82.50,570.52 83.00,551.29 83.50,562.35 84.00,565.24 84.50,568.10 85.00,558.70 85.50,582.88 86.00,569.72 86.50,600.45 87.00,571.46 87.50,604.17 88.00,595.66 88.50,603.36 89.00,594.72 89.50,597.26 90.00,598.20 90.50,606.83 91.00,610.29 91.50,610.87 92.00,616.55 92.50,612.35 93.00,623.35 93.50,623.72 94.00,631.03 94.50,630.94 95.00,632.53 95.50,636.82 96.00,637.45 96.50,640.49 97.00,639.63 97.50,646.00 98.00,645.10 98.50,645.02 99.00,648.76 99.50,648.39 100.00,650.29 100.50,650.38 101.00,647.72 101.50,653.62 102.00,653.57 102.50,654.90 103.00,655.75 103.50,653.71 104.00,654.76 104.50,656.00 105.00,657.35 105.50,655.16 106.00,655.85 106.50,657.04 107.00,657.41 107.50,656.97 108.00,656.13 108.50,657.37 109.00,657.81 109.50,657.54 110.00,658.60 110.50,657.07 111.00,657.46 111.50,656.95 112.00,657.47 112.50,657.47 113.00,657.66 113.50,658.58 114.00,657.76 114.50,657.67 115.00,657.34 115.50,657.59 116.00,658.31 116.50,657.96 117.00,657.84 117.50,657.46 118.00,658.25 118.50,658.60 119.00,658.32 119.50,658.24 120.00,657.56 120.50,657.91 121.00,658.60 121.50,657.87 122.00,657.60 122.50,658.00 123.00,658.57 123.50,657.70 124.00,658.01 124.50,658.56 125.00,657.61" fill="none" stroke="#6a6a6a" stroke-width="1.0" stroke-linejoin="round" />
<line x1="39.50" y1="534.00" x2="41.30" y2="534.00" stroke="#888" stroke-width="0.8" />
<line x1="39.50" y1="561.00" x2="41.30" y2="561.00" stroke="#888" stroke-width="0.8" />
<line x1="39.50" y1="587.00" x2="41.30" y2="587.00" stroke="#888" stroke-width="0.8" />
<line x1="39.50" y1="605.30" x2="41.30" y2="605.30" stroke="#888" stroke-width="0.8" />
<line x1="39.50" y1="624.50" x2="41.30" y2="624.50" stroke="#888" stroke-width="0.8" />
<line x1="39.50" y1="642.00" x2="41.30" y2="642.00" stroke="#888" stroke-width="0.8" />
<text x="104.32" y="543.60" font-size="12.6" fill="#222" textLength="56.11" lengthAdjust="spacing">MFI = 100</text>
<text x="63.99" y="671.60" font-size="9.5" fill="#555">10<tspan dy="-3.6" font-size="7.2" font-weight="bold" fill="#222">0</tspan></text>
<text x="93.79" y="671.60" font-size="9.5" fill="#555">10<tspan dy="-3.6" font-size="7.2" font-weight="bold" fill="#222">1</tspan></text>
<text x="124.99" y="671.60" font-size="9.5" fill="#555">10<tspan dy="-3.6" font-size="7.2" font-weight="bold" fill="#222">2</tspan></text>
<text x="155.99" y="671.60" font-size="9.5" fill="#555">10<tspan dy="-3.6" font-size="7.2" font-weight="bold" fill="#222">3</tspan></text>
<text x="75.17" y="689.40" font-size="15.8" fill="#222" textLength="49.28" lengthAdjust="spacing">Control</text>
<line x1="177.30" y1="526.30" x2="303.20" y2="526.30" stroke="#333" stroke-width="1.6" />
<line x1="177.30" y1="526.30" x2="177.30" y2="659.80" stroke="#ccc" stroke-width="1" />
<line x1="303.20" y1="526.30" x2="303.20" y2="659.80" stroke="#ccc" stroke-width="1" />
<line x1="177.30" y1="659.80" x2="303.20" y2="659.80" stroke="#999" stroke-width="0.8" stroke-dasharray="1.2 3"/>
<polyline points="192.00,657.79 192.50,659.25 193.00,656.97 193.50,656.84 194.00,655.60 194.50,655.13 195.00,656.00 195.50,653.55 196.00,652.15 196.50,652.44 197.00,651.28 197.50,651.83 198.00,648.78 198.50,647.98 199.00,645.34 199.50,644.25 200.00,645.59 200.50,637.46 201.00,638.26 201.50,634.47 202.00,633.79 202.50,627.81 203.00,625.71 203.50,614.97 204.00,623.87 204.50,618.07 205.00,609.27 205.50,610.30 206.00,601.92 206.50,584.82 207.00,590.33 207.50,592.53 208.00,579.57 208.50,575.78 209.00,573.40 209.50,574.62 210.00,568.70 210.50,551.16 211.00,551.97 211.50,561.93 212.00,548.37 212.50,540.08 213.00,549.25 213.50,539.80 214.00,541.22 214.50,540.67 215.00,531.43 215.50,545.25 216.00,531.43 216.50,536.16 217.00,531.43 217.50,531.43 218.00,550.96 218.50,531.43 219.00,538.69 219.50,551.25 220.00,532.30 220.50,536.81 221.00,542.13 221.50,537.39 222.00,551.49 222.50,550.29 223.00,571.40 223.50,559.54 224.00,555.41 224.50,566.23 225.00,563.77 225.50,575.37 226.00,587.86 226.50,587.62 227.00,588.43 227.50,589.58 228.00,593.25 228.50,596.69 229.00,600.53 229.50,609.79 230.00,608.92 230.50,614.26 231.00,616.23 231.50,627.53 232.00,626.11 232.50,630.48 233.00,632.63 233.50,633.90 234.00,636.76 234.50,638.30 235.00,642.46 235.50,644.89 236.00,644.53 236.50,647.12 237.00,646.54 237.50,648.23 238.00,648.33 238.50,652.42 239.00,651.96 239.50,652.99 240.00,653.76 240.50,655.97 241.00,653.18 241.50,655.60 242.00,654.91 242.50,657.51 243.00,657.09 243.50,656.80 244.00,657.87 244.50,658.04 245.00,658.64 245.50,657.08 246.00,657.83 246.50,658.63 247.00,658.39 247.50,659.02 248.00,658.15 248.50,658.64 249.00,658.93 249.50,658.48 250.00,657.36 250.50,658.80 251.00,659.12 251.50,659.11 252.00,658.48 252.50,659.23 253.00,659.55 253.50,658.46 254.00,659.70 254.50,659.70 255.00,659.15 255.50,659.13 256.00,659.70 256.50,659.70 257.00,659.05 257.50,659.42 258.00,659.70 258.50,658.68 259.00,658.70 259.50,658.63 260.00,659.27 260.50,659.66 261.00,659.53 261.50,658.90 262.00,659.45 262.50,659.70 263.00,659.10 263.50,659.09 264.00,659.70 264.50,659.65 265.00,659.20 265.50,659.70 266.00,659.33 266.50,659.53 267.00,659.21 267.50,659.70 268.00,659.57 268.50,659.69 269.00,659.11 269.50,659.34 270.00,659.70 270.50,659.67 271.00,659.48 271.50,659.58 272.00,659.43" fill="none" stroke="#6a6a6a" stroke-width="1.0" stroke-linejoin="round" />
<line x1="175.80" y1="533.50" x2="177.30" y2="533.50" stroke="#888" stroke-width="0.8" />
<line x1="175.80" y1="554.40" x2="177.30" y2="554.40" stroke="#888" stroke-width="0.8" />
<line x1="175.80" y1="597.10" x2="177.30" y2="597.10" stroke="#888" stroke-width="0.8" />
<line x1="175.80" y1="618.00" x2="177.30" y2="618.00" stroke="#888" stroke-width="0.8" />
<line x1="175.80" y1="638.90" x2="177.30" y2="638.90" stroke="#888" stroke-width="0.8" />
<text x="230.22" y="543.60" font-size="12.6" fill="#222" textLength="63.62" lengthAdjust="spacing">MFI = 97 %</text>
<text x="201.19" y="671.60" font-size="9.5" fill="#555">10<tspan dy="-3.6" font-size="7.2" font-weight="bold" fill="#222">0</tspan></text>
<text x="232.99" y="671.60" font-size="9.5" fill="#555">10<tspan dy="-3.6" font-size="7.2" font-weight="bold" fill="#222">1</tspan></text>
<text x="263.29" y="671.60" font-size="9.5" fill="#555">10<tspan dy="-3.6" font-size="7.2" font-weight="bold" fill="#222">2</tspan></text>
<text x="294.29" y="671.60" font-size="9.5" fill="#555">10<tspan dy="-3.6" font-size="7.2" font-weight="bold" fill="#222">3</tspan></text>
<text x="216.53" y="689.40" font-size="15.5" fill="#222" textLength="33.54" lengthAdjust="spacing">NAC</text>
<line x1="25.30" y1="539.20" x2="25.30" y2="567.50" stroke="#777" stroke-width="2.0" />
<polyline points="19.3,549.3 25.3,537.7 31.3,549.3" fill="none" stroke="#000" stroke-width="2.8" stroke-linecap="round" stroke-linejoin="miter"/>
<text x="0" y="0" font-size="14.2" font-weight="bold" fill="#111" textLength="38.35" lengthAdjust="spacing" transform="translate(28.76,619.71) rotate(-90)">Count</text>
<line x1="25.40" y1="630.40" x2="25.40" y2="653.20" stroke="#555" stroke-width="2.2" />
<line x1="38.80" y1="727.20" x2="163.60" y2="727.20" stroke="#ccc" stroke-width="1" />
<line x1="38.80" y1="727.20" x2="38.80" y2="860.40" stroke="#bbb" stroke-width="1" />
<line x1="163.60" y1="727.20" x2="163.60" y2="860.40" stroke="#ccc" stroke-width="1" />
<line x1="38.80" y1="860.40" x2="163.60" y2="860.40" stroke="#999" stroke-width="0.8" stroke-dasharray="1.2 3"/>
<polyline points="57.00,860.30 57.50,859.92 58.00,858.36 58.50,858.46 59.00,859.51 59.50,857.27 60.00,857.07 60.50,859.71 61.00,856.86 61.50,855.39 62.00,855.60 62.50,854.98 63.00,852.07 63.50,852.08 64.00,855.17 64.50,849.75 65.00,847.74 65.50,848.79 66.00,841.24 66.50,841.64 67.00,842.92 67.50,836.51 68.00,835.03 68.50,827.55 69.00,828.30 69.50,823.61 70.00,812.29 70.50,814.97 71.00,810.26 71.50,803.85 72.00,801.68 72.50,790.01 73.00,793.90 73.50,785.21 74.00,782.98 74.50,771.72 75.00,770.76 75.50,763.64 76.00,746.64 76.50,774.88 77.00,752.71 77.50,755.31 78.00,756.43 78.50,736.86 79.00,734.72 79.50,731.12 80.00,745.44 80.50,731.12 81.00,731.12 81.50,744.74 82.00,731.12 82.50,753.90 83.00,743.17 83.50,743.65 84.00,737.96 84.50,753.61 85.00,757.72 85.50,760.83 86.00,758.89 86.50,773.56 87.00,770.05 87.50,779.35 88.00,797.68 88.50,779.33 89.00,789.72 89.50,786.18 90.00,784.90 90.50,794.38 91.00,810.56 91.50,809.58 92.00,812.73 92.50,808.37 93.00,813.33 93.50,814.98 94.00,812.26 94.50,824.21 95.00,826.59 95.50,819.45 96.00,827.04 96.50,832.62 97.00,838.25 97.50,838.43 98.00,842.60 98.50,837.19 99.00,838.81 99.50,837.88 100.00,842.10 100.50,844.69 101.00,845.95 101.50,841.24 102.00,850.20 102.50,847.12 103.00,848.36 103.50,848.12 104.00,850.83 104.50,849.99 105.00,850.20 105.50,852.47 106.00,853.56 106.50,853.71 107.00,855.35 107.50,854.75 108.00,855.32 108.50,855.08 109.00,854.12 109.50,854.58 110.00,856.96 110.50,856.12 111.00,856.76 111.50,856.58 112.00,857.57 112.50,857.58 113.00,858.44 113.50,858.88 114.00,857.71 114.50,857.58 115.00,858.24 115.50,858.56 116.00,858.82 116.50,859.41 117.00,860.32 117.50,858.94 118.00,859.31 118.50,859.80 119.00,860.06 119.50,858.93 120.00,860.40 120.50,858.78 121.00,859.37 121.50,858.58 122.00,860.06 122.50,859.76 123.00,860.00 123.50,859.73 124.00,859.91 124.50,860.16 125.00,859.42 125.50,860.21 126.00,860.11 126.50,859.71 127.00,860.15 127.50,860.12 128.00,859.85 128.50,860.13 129.00,860.40 129.50,860.06 130.00,860.11 130.50,859.48 131.00,860.40 131.50,859.77 132.00,860.34 132.50,860.21 133.00,860.21 133.50,860.04 134.00,859.88 134.50,859.64 135.00,860.33" fill="none" stroke="#6a6a6a" stroke-width="1.0" stroke-linejoin="round" />
<line x1="37.30" y1="738.50" x2="38.80" y2="738.50" stroke="#888" stroke-width="0.8" />
<line x1="37.30" y1="756.00" x2="38.80" y2="756.00" stroke="#888" stroke-width="0.8" />
<line x1="37.30" y1="825.00" x2="38.80" y2="825.00" stroke="#888" stroke-width="0.8" />
<line x1="37.30" y1="842.50" x2="38.80" y2="842.50" stroke="#888" stroke-width="0.8" />
<text x="91.62" y="749.40" font-size="12.6" fill="#222" textLength="70.22" lengthAdjust="spacing">MFI = 120 %</text>
<text x="62.29" y="873.90" font-size="9.5" fill="#555">10<tspan dy="-3.6" font-size="7.2" font-weight="bold" fill="#222">0</tspan></text>
<text x="92.19" y="873.90" font-size="9.5" fill="#555">10<tspan dy="-3.6" font-size="7.2" font-weight="bold" fill="#222">1</tspan></text>
<text x="122.99" y="873.90" font-size="9.5" fill="#555">10<tspan dy="-3.6" font-size="7.2" font-weight="bold" fill="#222">2</tspan></text>
<text x="155.89" y="873.90" font-size="9.5" fill="#555">10<tspan dy="-3.6" font-size="7.2" font-weight="bold" fill="#222">3</tspan></text>
<text x="75.43" y="894.70" font-size="15.6" fill="#222" textLength="33.27" lengthAdjust="spacing">DCA</text>
<line x1="179.30" y1="726.50" x2="305.00" y2="726.50" stroke="#333" stroke-width="1.6" />
<line x1="179.30" y1="726.50" x2="179.30" y2="860.60" stroke="#333" stroke-width="1.4" />
<line x1="305.00" y1="726.50" x2="305.00" y2="860.60" stroke="#ccc" stroke-width="1" />
<line x1="179.30" y1="860.60" x2="305.00" y2="860.60" stroke="#999" stroke-width="0.8" stroke-dasharray="1.2 3"/>
<polyline points="199.00,855.39 199.50,854.98 200.00,854.32 200.50,855.52 201.00,852.07 201.50,852.43 202.00,850.31 202.50,849.94 203.00,846.42 203.50,843.50 204.00,841.24 204.50,842.09 205.00,836.49 205.50,832.36 206.00,836.19 206.50,825.70 207.00,831.23 207.50,821.36 208.00,817.22 208.50,809.68 209.00,809.93 209.50,808.58 210.00,805.43 210.50,802.87 211.00,788.86 211.50,788.66 212.00,786.15 212.50,800.76 213.00,775.20 213.50,772.07 214.00,771.84 214.50,774.68 215.00,772.76 215.50,769.16 216.00,751.18 216.50,744.01 217.00,740.76 217.50,738.97 218.00,734.77 218.50,748.67 219.00,753.62 219.50,733.65 220.00,736.30 220.50,735.84 221.00,745.95 221.50,748.43 222.00,732.33 222.50,735.77 223.00,766.19 223.50,752.17 224.00,763.13 224.50,743.33 225.00,765.61 225.50,751.14 226.00,765.53 226.50,776.91 227.00,781.76 227.50,787.18 228.00,780.48 228.50,796.65 229.00,798.95 229.50,792.19 230.00,783.71 230.50,794.33 231.00,800.49 231.50,803.90 232.00,808.99 232.50,813.85 233.00,808.26 233.50,811.76 234.00,817.02 234.50,818.82 235.00,817.17 235.50,822.49 236.00,823.95 236.50,827.67 237.00,827.27 237.50,832.29 238.00,836.23 238.50,833.02 239.00,835.03 239.50,840.70 240.00,839.24 240.50,840.67 241.00,841.68 241.50,836.57 242.00,844.47 242.50,846.06 243.00,847.98 243.50,849.24 244.00,854.28 244.50,850.70 245.00,851.02 245.50,853.26 246.00,852.03 246.50,852.08 247.00,851.66 247.50,850.73 248.00,854.35 248.50,856.15 249.00,856.87 249.50,854.24 250.00,856.94 250.50,856.63 251.00,856.15 251.50,857.11 252.00,857.37 252.50,857.54 253.00,859.75 253.50,858.43 254.00,857.97 254.50,859.65 255.00,859.94 255.50,858.61 256.00,859.32 256.50,859.01 257.00,860.53 257.50,859.53 258.00,860.11 258.50,859.30 259.00,858.91 259.50,860.06 260.00,859.47 260.50,860.34 261.00,860.08 261.50,859.80 262.00,860.27 262.50,859.47 263.00,859.89 263.50,860.59 264.00,860.60 264.50,860.33 265.00,860.60 265.50,859.71 266.00,860.30 266.50,860.38 267.00,860.18 267.50,860.34 268.00,859.78 268.50,859.77 269.00,859.99 269.50,860.07 270.00,859.97" fill="none" stroke="#6a6a6a" stroke-width="1.0" stroke-linejoin="round" />
<text x="229.22" y="746.10" font-size="12.6" fill="#222" textLength="69.60" lengthAdjust="spacing">MFI = 113 %</text>
<text x="201.99" y="873.90" font-size="9.5" fill="#555">10<tspan dy="-3.6" font-size="7.2" font-weight="bold" fill="#222">0</tspan></text>
<text x="234.19" y="873.90" font-size="9.5" fill="#555">10<tspan dy="-3.6" font-size="7.2" font-weight="bold" fill="#222">1</tspan></text>
<text x="266.89" y="873.90" font-size="9.5" fill="#555">10<tspan dy="-3.6" font-size="7.2" font-weight="bold" fill="#222">2</tspan></text>
<text x="297.49" y="873.90" font-size="9.5" fill="#555">10<tspan dy="-3.6" font-size="7.2" font-weight="bold" fill="#222">3</tspan></text>
<text x="198.53" y="894.50" font-size="15.8" fill="#222" textLength="84.67" lengthAdjust="spacing">DCA + NAC</text>
<line x1="25.30" y1="738.10" x2="25.30" y2="766.20" stroke="#777" stroke-width="2.0" />
<polyline points="19.3,748.2 25.3,736.6 31.3,748.2" fill="none" stroke="#000" stroke-width="2.8" stroke-linecap="round" stroke-linejoin="miter"/>
<text x="0" y="0" font-size="14.2" font-weight="bold" fill="#111" textLength="38.45" lengthAdjust="spacing" transform="translate(28.76,818.41) rotate(-90)">Count</text>
<line x1="25.20" y1="829.30" x2="25.20" y2="850.80" stroke="#555" stroke-width="2.2" />
<line x1="64.90" y1="911.10" x2="107.90" y2="911.10" stroke="#777" stroke-width="2.2" />
<text x="120.92" y="914.00" font-size="12.3" font-weight="bold" fill="#111" textLength="120.59" lengthAdjust="spacing">Fluorescence Intensity</text>
<line x1="260.50" y1="911.40" x2="302.70" y2="911.40" stroke="#666" stroke-width="2.1" />
<polyline points="292.6,905.5 304.2,911.4 292.6,917.3" fill="none" stroke="#000" stroke-width="2.8" stroke-linecap="round" stroke-linejoin="miter"/>
<text x="310.46" y="495.10" font-size="21.5" fill="#111">D</text>
<text x="-0.21" y="0" font-size="14" font-weight="bold" fill="#111" transform="translate(371.10,498.50) scale(1.1312,1)">LDLR mRNA</text>
<text x="383.37" y="528.50" font-size="18" font-weight="bold" fill="#111" textLength="24.52" lengthAdjust="spacing">6 h</text>
<text x="0" y="0" font-size="12.6" font-weight="bold" fill="#111" textLength="54.78" lengthAdjust="spacing" transform="translate(324.51,594.36) rotate(-90)">% mRNA</text>
<line x1="361.60" y1="481.40" x2="361.60" y2="686.50" stroke="#333" stroke-width="1.4" />
<line x1="361.10" y1="686.00" x2="676.50" y2="686.00" stroke="#333" stroke-width="1.4" />
<line x1="358.10" y1="686.00" x2="361.60" y2="686.00" stroke="#333" stroke-width="1.3" />
<text x="344.96" y="691.46" font-size="11.4" fill="#333">0</text>
<line x1="358.10" y1="645.08" x2="361.60" y2="645.08" stroke="#333" stroke-width="1.3" />
<text x="339.26" y="650.54" font-size="11.4" fill="#333">50</text>
<line x1="358.10" y1="604.16" x2="361.60" y2="604.16" stroke="#333" stroke-width="1.3" />
<text x="333.56" y="609.62" font-size="11.4" fill="#333">100</text>
<line x1="358.10" y1="563.24" x2="361.60" y2="563.24" stroke="#333" stroke-width="1.3" />
<text x="333.56" y="568.70" font-size="11.4" fill="#333">150</text>
<line x1="358.10" y1="522.32" x2="361.60" y2="522.32" stroke="#333" stroke-width="1.3" />
<text x="333.56" y="527.78" font-size="11.4" fill="#333">200</text>
<line x1="358.10" y1="481.40" x2="361.60" y2="481.40" stroke="#333" stroke-width="1.3" />
<text x="333.56" y="486.86" font-size="11.4" fill="#333">250</text>
<rect x="378.10" y="604.20" width="20.30" height="81.80" fill="#000" />
<line x1="388.25" y1="598.00" x2="388.25" y2="604.20" stroke="#666" stroke-width="1.3" />
<line x1="383.65" y1="598.00" x2="392.85" y2="598.00" stroke="#222" stroke-width="1.6" />
<rect x="430.70" y="593.60" width="20.30" height="92.40" fill="#000" />
<line x1="440.85" y1="588.30" x2="440.85" y2="593.60" stroke="#666" stroke-width="1.3" />
<line x1="436.25" y1="588.30" x2="445.45" y2="588.30" stroke="#222" stroke-width="1.6" />
<rect x="483.00" y="577.00" width="20.30" height="109.00" fill="#000" />
<line x1="493.15" y1="567.70" x2="493.15" y2="577.00" stroke="#666" stroke-width="1.3" />
<line x1="488.55" y1="567.70" x2="497.75" y2="567.70" stroke="#222" stroke-width="1.6" />
<text x="486.12" y="566.88" font-size="13.5" font-weight="bold" fill="#111">*</text>
<text x="493.42" y="566.88" font-size="13.5" font-weight="bold" fill="#111">*</text>
<rect x="535.35" y="584.80" width="20.30" height="101.20" fill="#000" />
<line x1="545.50" y1="575.10" x2="545.50" y2="584.80" stroke="#666" stroke-width="1.3" />
<line x1="540.90" y1="575.10" x2="550.10" y2="575.10" stroke="#222" stroke-width="1.6" />
<text x="542.12" y="571.58" font-size="13.5" font-weight="bold" fill="#111">*</text>
<rect x="588.50" y="519.70" width="20.30" height="166.30" fill="#000" />
<line x1="598.65" y1="513.50" x2="598.65" y2="519.70" stroke="#666" stroke-width="1.3" />
<line x1="594.05" y1="513.50" x2="603.25" y2="513.50" stroke="#222" stroke-width="1.6" />
<text x="587.98" y="510.08" font-size="13.5" font-weight="bold" fill="#111">*</text>
<text x="595.27" y="510.08" font-size="13.5" font-weight="bold" fill="#111">*</text>
<text x="602.57" y="510.08" font-size="13.5" font-weight="bold" fill="#111">*</text>
<rect x="641.10" y="503.40" width="20.30" height="182.60" fill="#000" />
<line x1="651.25" y1="491.80" x2="651.25" y2="503.40" stroke="#666" stroke-width="1.3" />
<line x1="646.65" y1="491.80" x2="655.85" y2="491.80" stroke="#222" stroke-width="1.6" />
<text x="640.58" y="487.08" font-size="13.5" font-weight="bold" fill="#111">*</text>
<text x="647.88" y="487.08" font-size="13.5" font-weight="bold" fill="#111">*</text>
<text x="655.17" y="487.08" font-size="13.5" font-weight="bold" fill="#111">*</text>
<line x1="437.80" y1="552.00" x2="491.60" y2="552.00" stroke="#111" stroke-width="1.5" />
<text x="458.75" y="547.50" font-size="14" font-weight="bold" fill="#111" textLength="13.60" lengthAdjust="spacing">ns</text>
<line x1="544.00" y1="471.00" x2="644.30" y2="471.00" stroke="#111" stroke-width="1.5" />
<text x="586.62" y="469.18" font-size="13.5" font-weight="bold" fill="#111">*</text>
<text x="593.92" y="469.18" font-size="13.5" font-weight="bold" fill="#111">*</text>
<text x="601.22" y="469.18" font-size="13.5" font-weight="bold" fill="#111">*</text>
<line x1="544.00" y1="487.80" x2="601.30" y2="487.80" stroke="#111" stroke-width="1.5" />
<text x="564.03" y="486.78" font-size="13.5" font-weight="bold" fill="#111">*</text>
<text x="571.33" y="486.78" font-size="13.5" font-weight="bold" fill="#111">*</text>
<text x="578.62" y="486.78" font-size="13.5" font-weight="bold" fill="#111">*</text>
<line x1="597.20" y1="494.60" x2="638.60" y2="494.60" stroke="#111" stroke-width="1.5" />
<text x="611.55" y="491.90" font-size="14" font-weight="bold" fill="#111" textLength="13.80" lengthAdjust="spacing">ns</text>
<text x="377.88" y="712.40" font-size="18" font-weight="bold" fill="#111" textLength="34.31" lengthAdjust="spacing">24 h</text>
<line x1="362.20" y1="715.40" x2="362.20" y2="894.80" stroke="#333" stroke-width="1.4" />
<line x1="361.70" y1="894.30" x2="682.30" y2="894.30" stroke="#333" stroke-width="1.4" />
<line x1="358.70" y1="894.30" x2="362.20" y2="894.30" stroke="#333" stroke-width="1.3" />
<text x="346.16" y="899.76" font-size="11.4" fill="#333">0</text>
<line x1="358.70" y1="849.57" x2="362.20" y2="849.57" stroke="#333" stroke-width="1.3" />
<text x="340.46" y="855.04" font-size="11.4" fill="#333">50</text>
<line x1="358.70" y1="804.85" x2="362.20" y2="804.85" stroke="#333" stroke-width="1.3" />
<text x="334.76" y="810.31" font-size="11.4" fill="#333">100</text>
<line x1="358.70" y1="760.12" x2="362.20" y2="760.12" stroke="#333" stroke-width="1.3" />
<text x="334.76" y="765.59" font-size="11.4" fill="#333">150</text>
<line x1="358.70" y1="715.40" x2="362.20" y2="715.40" stroke="#333" stroke-width="1.3" />
<text x="334.76" y="720.86" font-size="11.4" fill="#333">200</text>
<line x1="362.20" y1="894.30" x2="362.20" y2="897.30" stroke="#333" stroke-width="1.0" />
<line x1="415.55" y1="894.30" x2="415.55" y2="897.30" stroke="#333" stroke-width="1.0" />
<line x1="468.90" y1="894.30" x2="468.90" y2="897.30" stroke="#333" stroke-width="1.0" />
<line x1="522.25" y1="894.30" x2="522.25" y2="897.30" stroke="#333" stroke-width="1.0" />
<line x1="575.60" y1="894.30" x2="575.60" y2="897.30" stroke="#333" stroke-width="1.0" />
<line x1="628.95" y1="894.30" x2="628.95" y2="897.30" stroke="#333" stroke-width="1.0" />
<line x1="682.30" y1="894.30" x2="682.30" y2="897.30" stroke="#333" stroke-width="1.0" />
<rect x="379.40" y="805.30" width="20.00" height="89.00" fill="#000" />
<line x1="389.40" y1="792.50" x2="389.40" y2="805.30" stroke="#666" stroke-width="1.3" />
<line x1="384.80" y1="792.50" x2="394.00" y2="792.50" stroke="#222" stroke-width="1.6" />
<rect x="432.25" y="778.50" width="20.00" height="115.80" fill="#000" />
<line x1="442.25" y1="771.00" x2="442.25" y2="778.50" stroke="#666" stroke-width="1.3" />
<line x1="437.65" y1="771.00" x2="446.85" y2="771.00" stroke="#222" stroke-width="1.6" />
<text x="438.88" y="768.98" font-size="13.5" font-weight="bold" fill="#111">*</text>
<rect x="485.60" y="766.60" width="20.00" height="127.70" fill="#000" />
<line x1="495.60" y1="761.30" x2="495.60" y2="766.60" stroke="#666" stroke-width="1.3" />
<line x1="491.00" y1="761.30" x2="500.20" y2="761.30" stroke="#222" stroke-width="1.6" />
<text x="488.58" y="759.68" font-size="13.5" font-weight="bold" fill="#111">*</text>
<text x="495.88" y="759.68" font-size="13.5" font-weight="bold" fill="#111">*</text>
<rect x="538.50" y="784.80" width="20.00" height="109.50" fill="#000" />
<line x1="548.50" y1="778.30" x2="548.50" y2="784.80" stroke="#666" stroke-width="1.3" />
<line x1="543.90" y1="778.30" x2="553.10" y2="778.30" stroke="#222" stroke-width="1.6" />
<rect x="591.50" y="776.40" width="20.00" height="117.90" fill="#000" />
<line x1="601.50" y1="765.80" x2="601.50" y2="776.40" stroke="#666" stroke-width="1.3" />
<line x1="596.90" y1="765.80" x2="606.10" y2="765.80" stroke="#222" stroke-width="1.6" />
<text x="598.12" y="763.38" font-size="13.5" font-weight="bold" fill="#111">*</text>
<rect x="644.80" y="746.30" width="20.00" height="148.00" fill="#000" />
<line x1="654.80" y1="728.90" x2="654.80" y2="746.30" stroke="#666" stroke-width="1.3" />
<line x1="650.20" y1="728.90" x2="659.40" y2="728.90" stroke="#222" stroke-width="1.6" />
<text x="647.77" y="729.68" font-size="13.5" font-weight="bold" fill="#111">*</text>
<text x="655.07" y="729.68" font-size="13.5" font-weight="bold" fill="#111">*</text>
<line x1="441.30" y1="742.60" x2="491.20" y2="742.60" stroke="#111" stroke-width="1.5" />
<text x="461.65" y="736.80" font-size="14" font-weight="bold" fill="#111" textLength="13.30" lengthAdjust="spacing">ns</text>
<line x1="549.40" y1="715.20" x2="654.90" y2="715.20" stroke="#111" stroke-width="1.5" />
<text x="596.27" y="714.28" font-size="13.5" font-weight="bold" fill="#111">*</text>
<text x="603.57" y="714.28" font-size="13.5" font-weight="bold" fill="#111">*</text>
<line x1="599.50" y1="743.40" x2="648.90" y2="743.40" stroke="#111" stroke-width="1.5" />
<text x="619.02" y="741.98" font-size="13.5" font-weight="bold" fill="#111">*</text>
<line x1="549.40" y1="771.30" x2="595.90" y2="771.30" stroke="#111" stroke-width="1.5" />
<text x="563.05" y="768.00" font-size="14" font-weight="bold" fill="#111" textLength="13.20" lengthAdjust="spacing">ns</text>
<text x="343.00" y="920.90" font-size="13.6" font-weight="bold" fill="#111" textLength="30.09" lengthAdjust="spacing">DCA</text>
<line x1="383.00" y1="912.20" x2="394.70" y2="912.20" stroke="#333" stroke-width="2.4" />
<text x="427.32" y="915.10" font-size="12.2" font-weight="bold" fill="#111" textLength="29.10" lengthAdjust="spacing">1mM</text>
<text x="480.41" y="915.10" font-size="12.2" font-weight="bold" fill="#111" textLength="29.72" lengthAdjust="spacing">5mM</text>
<text x="534.76" y="915.10" font-size="12.2" font-weight="bold" fill="#111" textLength="28.08" lengthAdjust="spacing">NAC</text>
<text x="587.86" y="914.90" font-size="12.2" font-weight="bold" fill="#111" textLength="27.48" lengthAdjust="spacing">NAC</text>
<text x="583.29" y="928.70" font-size="12.2" font-weight="bold" fill="#111" textLength="35.44" lengthAdjust="spacing">+1mM</text>
<text x="641.63" y="914.90" font-size="12.2" font-weight="bold" fill="#111">NAC</text>
<text x="636.19" y="928.70" font-size="12.2" font-weight="bold" fill="#111" textLength="36.04" lengthAdjust="spacing">+5mM</text>
</svg>
</body></html>
